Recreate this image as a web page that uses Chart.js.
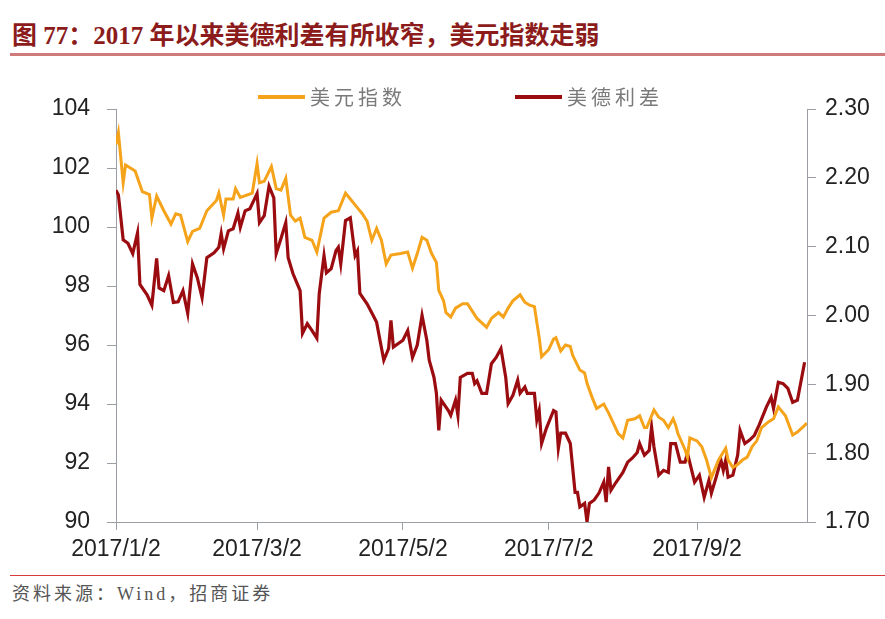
<!DOCTYPE html>
<html>
<head>
<meta charset="utf-8">
<script src="https://cdn.jsdelivr.net/npm/chart.js@4.4.1/dist/chart.umd.min.js"></script>
<style>
  body { margin: 0; background: #fff; width: 885px; height: 619px; position: relative; overflow: hidden; }
  #title { position: absolute; left: 12px; top: 15px; font-family: "Liberation Serif", "Noto Sans CJK SC", serif; font-weight: bold; font-size: 25px; color: #8c1b1b; white-space: nowrap; }
  #titleLine { position: absolute; left: 10px; top: 53px; width: 875px; height: 3px; background: #cf7b7b; }
  #wrap { position: absolute; left: 0; top: 60px; width: 885px; height: 515px; }
  #bottomLine { position: absolute; left: 10px; top: 575px; width: 875px; height: 1px; background: #d83a3a; }
  #source { position: absolute; left: 12px; top: 579px; font-family: "Liberation Serif", "Noto Sans CJK SC", serif; font-size: 18px; letter-spacing: 3px; color: #555; white-space: nowrap; }
</style>
</head>
<body>
<div id="title">图 77：2017 年以来美德利差有所收窄，美元指数走弱</div>
<div id="titleLine"></div>
<div id="wrap"><canvas id="chart" width="885" height="515"></canvas></div>
<div id="bottomLine"></div>
<div id="source">资料来源：Wind，招商证券</div>
<script>
// 美元指数 (left axis)
var usdDates = ['1/2','1/3','1/5','1/6','1/8','1/10','1/13','1/16','1/17','1/19','1/22','1/25','1/27','1/29',
  '2/1','2/3','2/6','2/9','2/13','2/14','2/16','2/17','2/20','2/21','2/23','2/28',
  '3/2','3/3','3/5','3/8','3/10','3/12','3/14','3/16','3/18','3/20','3/22','3/25','3/27','3/30',
  '4/2','4/5','4/8','4/10','4/13','4/15','4/17','4/19','4/21','4/23','4/25','4/27',
  '5/1','5/4','5/6','5/8','5/10','5/12','5/14','5/16','5/17','5/19','5/20','5/22','5/24','5/27','5/29','5/31',
  '6/2','6/4','6/6','6/8','6/11','6/13','6/15','6/17','6/20','6/22','6/24','6/26','6/28','6/29',
  '7/2','7/4','7/5','7/7','7/9','7/11','7/12','7/15','7/17','7/18','7/20','7/22','7/24','7/25','7/27','7/29','7/31',
  '8/2','8/4','8/7','8/9','8/11','8/12','8/15','8/17','8/19','8/21','8/23','8/24','8/25','8/28','8/29','8/30',
  '9/2','9/4','9/6','9/8','9/9','9/11','9/14','9/15','9/17','9/19','9/21','9/23','9/25','9/27','9/29',
  '10/2','10/4','10/6','10/7','10/9','10/12','10/14','10/16','10/18'];
var usdIndex = [102.8,103.2,101.5,102.1,102.0,101.9,101.2,101.1,100.3,101.05,100.55,100.1,100.45,100.4,
  99.5,99.85,99.95,100.55,100.9,101.15,100.4,100.95,100.95,101.3,101.0,101.15,
  102.15,101.5,101.55,102.05,101.3,101.25,101.65,100.4,100.2,100.3,99.65,99.55,99.15,100.3,
  100.5,100.55,101.15,100.95,100.65,100.45,100.2,99.55,99.95,99.55,98.75,99.05,
  99.1,99.15,98.6,99.1,99.65,99.55,99.1,98.8,97.85,97.5,97.1,96.95,97.25,97.4,97.4,97.15,
  96.9,96.75,96.6,96.9,97.1,96.95,97.25,97.5,97.7,97.45,97.35,97.3,96.25,95.6,
  95.85,96.2,96.25,95.8,96.0,95.95,95.65,95.15,95.05,94.7,94.25,93.85,93.95,94.0,93.7,93.35,93.0,
  92.85,93.45,93.5,93.6,93.2,93.2,93.8,93.55,93.45,93.2,93.5,93.3,93.0,92.45,92.2,92.85,
  92.75,92.55,92.1,91.5,91.7,92.1,92.5,92.1,91.85,91.95,92.1,92.2,92.55,92.75,93.2,
  93.4,93.5,93.9,93.8,93.6,92.95,93.05,93.2,93.35];

// 美德利差 (right axis)
var spreadDates = ['1/2','1/3','1/5','1/7','1/9','1/11','1/12','1/15','1/17','1/19','1/20','1/22','1/24','1/26','1/28','1/30',
  '2/1','2/3','2/5','2/7','2/9','2/12','2/14','2/15','2/16','2/18','2/20','2/22','2/23','2/25','2/27',
  '3/2','3/3','3/5','3/7','3/9','3/10','3/12','3/14','3/15','3/17','3/20','3/21','3/23','3/25','3/27','3/28','3/30','3/31',
  '4/2','4/4','4/5','4/6','4/8','4/10','4/12','4/13','4/14','4/17','4/20','4/21','4/24','4/26','4/27','4/28',
  '5/2','5/4','5/6','5/8','5/10','5/12','5/13','5/15','5/16','5/17','5/18','5/21','5/22','5/24','5/25','5/26','5/29','5/31',
  '6/1','6/2','6/4','6/6','6/8','6/10','6/12','6/14','6/15','6/17','6/19','6/20','6/22','6/23','6/26','6/27','6/28','6/29',
  '7/1','7/4','7/5','7/6','7/7','7/9','7/11','7/13','7/14','7/15','7/17','7/18','7/19','7/21','7/23','7/25','7/26','7/27','7/28','7/30',
  '8/2','8/4','8/6','8/8','8/9','8/11','8/13','8/14','8/15','8/17','8/19','8/21','8/22','8/24','8/26','8/28','8/29',
  '9/1','9/3','9/5','9/7','9/8','9/10','9/12','9/13','9/14','9/15','9/17','9/19','9/20','9/22','9/24','9/26','9/28',
  '10/1','10/3','10/4','10/6','10/8','10/10','10/12','10/14','10/17'];
var spread = [2.182,2.175,2.11,2.105,2.09,2.12,2.045,2.03,2.015,2.083,2.04,2.036,2.058,2.019,2.02,2.036,
  2.003,2.075,2.055,2.026,2.084,2.091,2.099,2.119,2.097,2.123,2.126,2.149,2.128,2.152,2.155,
  2.177,2.135,2.145,2.188,2.171,2.09,2.112,2.135,2.084,2.061,2.036,1.974,1.988,1.978,1.967,2.032,2.087,2.062,
  2.068,2.094,2.099,2.075,2.138,2.142,2.087,2.094,2.032,2.017,1.997,1.99,1.935,1.952,1.993,1.954,
  1.964,1.978,1.939,1.957,2.0,1.964,1.935,1.91,1.887,1.833,1.877,1.862,1.855,1.877,1.855,1.91,1.916,1.916,
  1.901,1.905,1.887,1.887,1.93,1.939,1.952,1.91,1.872,1.884,1.906,1.887,1.896,1.887,1.887,1.848,1.862,1.814,
  1.836,1.862,1.86,1.807,1.829,1.829,1.814,1.743,1.743,1.722,1.727,1.70,1.727,1.732,1.742,1.758,1.729,1.78,1.746,1.757,
  1.772,1.787,1.793,1.801,1.814,1.797,1.804,1.838,1.809,1.768,1.775,1.772,1.814,1.814,1.787,1.787,1.80,
  1.758,1.768,1.736,1.761,1.742,1.765,1.79,1.775,1.79,1.765,1.768,1.797,1.833,1.814,1.819,1.826,1.841,
  1.867,1.881,1.865,1.903,1.901,1.894,1.874,1.877,1.932];

var xTickLabels = ['2017/1/2','2017/3/2','2017/5/2','2017/7/2','2017/9/2'];
var leftTicks = [90, 92, 94, 96, 98, 100, 102, 104];
var rightTicks = [1.70, 1.80, 1.90, 2.00, 2.10, 2.20, 2.30];

function dayOf(md) {
  var p = md.split('/').map(Number);
  if (p.length === 3) p = [p[1], p[2]];
  return (Date.UTC(2017, p[0] - 1, p[1]) - Date.UTC(2017, 0, 2)) / 86400000;
}

var usdPoints = usdDates.map(function(d, i) { return { x: dayOf(d), y: usdIndex[i] }; });
var spreadPoints = spreadDates.map(function(d, i) { return { x: dayOf(d), y: spread[i] }; });
var xTickDays = xTickLabels.map(dayOf);

var axisFont = { family: '"Liberation Sans", Arial, sans-serif', size: 23 };
var axisColor = '#9b9ea4';

var legendItems = [
  { text: '美元指数', color: '#f5a31a', x: 258 },
  { text: '美德利差', color: '#9b0c10', x: 515 }
];

var legendPlugin = {
  id: 'topLegend',
  afterDraw: function(chart) {
    var ctx = chart.ctx;
    ctx.save();
    legendItems.forEach(function(it) {
      ctx.strokeStyle = it.color;
      ctx.lineWidth = 4;
      ctx.beginPath();
      ctx.moveTo(it.x, 37);
      ctx.lineTo(it.x + 47, 37);
      ctx.stroke();
      ctx.fillStyle = '#7a7a7a';
      ctx.font = '20px "Noto Sans CJK SC", sans-serif';
      ctx.letterSpacing = '4px';
      ctx.textBaseline = 'middle';
      ctx.fillText(it.text, it.x + 52, 37);
    });
    ctx.restore();
  }
};

new Chart(document.getElementById('chart'), {
  type: 'line',
  data: {
    datasets: [
      {
        label: '美元指数',
        data: usdPoints,
        borderColor: '#f5a31a',
        borderWidth: 3,
        pointRadius: 0,
        tension: 0,
        yAxisID: 'y'
      },
      {
        label: '美德利差',
        data: spreadPoints,
        borderColor: '#9b0c10',
        borderWidth: 3.2,
        pointRadius: 0,
        tension: 0,
        yAxisID: 'y1'
      }
    ]
  },
  options: {
    responsive: false,
    animation: false,
    layout: { padding: { top: 49, left: 0, right: 0, bottom: 0 } },
    plugins: { legend: { display: false }, tooltip: { enabled: false } },
    scales: {
      x: {
        type: 'linear',
        min: 0,
        max: 289,
        afterBuildTicks: function(scale) {
          scale.ticks = xTickDays.map(function(v) { return { value: v }; });
        },
        afterFit: function(scale) { scale.height = 53; },
        ticks: {
          autoSkip: false,
          maxRotation: 0,
          padding: 6,
          color: '#222',
          font: axisFont,
          callback: function(v) {
            var i = xTickDays.indexOf(v);
            return i >= 0 ? xTickLabels[i] : '';
          }
        },
        grid: { display: true, drawOnChartArea: false, drawTicks: true, tickLength: 8, color: axisColor },
        border: { color: axisColor, width: 1 }
      },
      y: {
        position: 'left',
        min: 90,
        max: 104,
        afterBuildTicks: function(scale) {
          scale.ticks = leftTicks.map(function(v) { return { value: v }; });
        },
        afterFit: function(scale) { scale.width = 116; },
        ticks: { padding: 17, color: '#222', font: axisFont },
        grid: { drawOnChartArea: false, tickLength: 9, color: axisColor },
        border: { color: axisColor, width: 1 }
      },
      y1: {
        position: 'right',
        min: 1.70,
        max: 2.30,
        afterBuildTicks: function(scale) {
          scale.ticks = rightTicks.map(function(v) { return { value: v }; });
        },
        afterFit: function(scale) { scale.width = 78; },
        ticks: {
          padding: 9,
          color: '#222',
          font: axisFont,
          callback: function(v) { return v.toFixed(2); }
        },
        grid: { drawOnChartArea: false, tickLength: 9, color: axisColor },
        border: { color: axisColor, width: 1 }
      }
    }
  },
  plugins: [legendPlugin]
});
</script>
</body>
</html>
